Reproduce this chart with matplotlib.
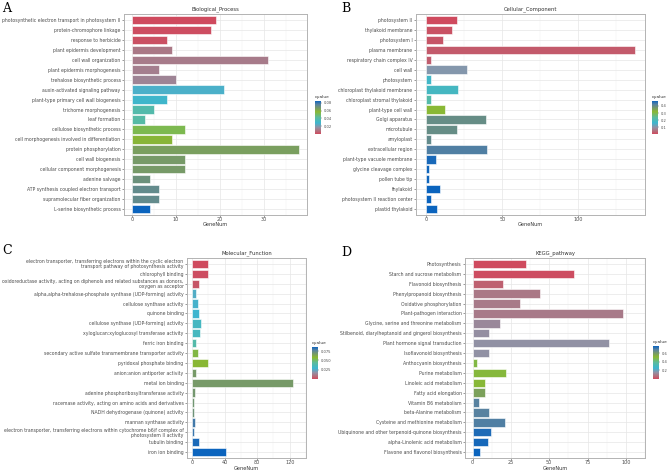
import numpy as np
import matplotlib
matplotlib.use("Agg")
import matplotlib.pyplot as plt
from matplotlib.colors import LinearSegmentedColormap, Normalize
from matplotlib.cm import ScalarMappable

# ---- data ----
bp_terms = ["photosynthetic electron transport in photosystem II", "protein-chromophore linkage",
            "response to herbicide", "plant epidermis development", "cell wall organization",
            "plant epidermis morphogenesis", "trehalose biosynthetic process",
            "auxin-activated signaling pathway", "plant-type primary cell wall biogenesis",
            "trichome morphogenesis", "leaf formation", "cellulose biosynthetic process",
            "cell morphogenesis involved in differentiation", "protein phosphorylation",
            "cell wall biogenesis", "cellular component morphogenesis", "adenine salvage",
            "ATP synthesis coupled electron transport", "supramolecular fiber organization",
            "L-serine biosynthetic process"]
bp_num = [19, 18, 8, 9, 31, 6, 10, 21, 8, 5, 3, 12, 9, 38, 12, 12, 4, 6, 6, 4]
bp_q = [0.0001, 0.0009, 0.0017, 0.0102, 0.0111, 0.0119, 0.0136, 0.0264, 0.0298, 0.0383,
        0.0400, 0.0527, 0.0578, 0.0646, 0.0663, 0.0663, 0.0697, 0.0723, 0.0723, 0.0850]

cc_terms = ["photosystem II", "thylakoid membrane", "photosystem I", "plasma membrane",
            "respiratory chain complex IV", "cell wall", "photosystem",
            "chloroplast thylakoid membrane", "chloroplast stromal thylakoid", "plant-type cell wall",
            "Golgi apparatus", "microtubule", "amyloplast", "extracellular region",
            "plant-type vacuole membrane", "glycine cleavage complex", "pollen tube tip",
            "thylakoid", "photosystem II reaction center", "plastid thylakoid"]
cc_num = [20, 17, 11, 137, 3, 27, 3, 21, 3, 12, 39, 20, 3, 40, 6, 2, 2, 9, 3, 7]
cc_q = [0.010, 0.019, 0.024, 0.028, 0.033, 0.111, 0.176, 0.185, 0.222, 0.314,
        0.396, 0.396, 0.401, 0.424, 0.461, 0.465, 0.465, 0.470, 0.470, 0.470]

mf_terms = ["electron transporter, transferring electrons within the cyclic electron\ntransport pathway of photosynthesis activity",
            "chlorophyll binding",
            "oxidoreductase activity, acting on diphenols and related substances as donors,\noxygen as acceptor",
            "alpha,alpha-trehalose-phosphate synthase (UDP-forming) activity",
            "cellulose synthase activity", "quinone binding",
            "cellulose synthase (UDP-forming) activity",
            "xyloglucan:xyloglucosyl transferase activity", "ferric iron binding",
            "secondary active sulfate transmembrane transporter activity",
            "pyridoxal phosphate binding", "anion:anion antiporter activity", "metal ion binding",
            "adenine phosphoribosyltransferase activity",
            "racemase activity, acting on amino acids and derivatives",
            "NADH dehydrogenase (quinone) activity", "mannan synthase activity",
            "electron transporter, transferring electrons within cytochrome b6/f complex of\nphotosystem II activity",
            "tubulin binding", "iron ion binding"]
mf_num = [20, 20, 9, 5, 7, 9, 11, 10, 5, 7, 19, 5, 124, 4, 2, 2, 4, 3, 8, 42]
mf_q = [0.0001, 0.0009, 0.0026, 0.0261, 0.0278, 0.0287, 0.0331, 0.0339, 0.0400, 0.0557,
        0.0583, 0.0679, 0.0679, 0.0687, 0.0696, 0.0705, 0.0800, 0.0809, 0.0853, 0.0870]

kegg_terms = ["Photosynthesis", "Starch and sucrose metabolism", "Flavonoid biosynthesis",
              "Phenylpropanoid biosynthesis", "Oxidative phosphorylation",
              "Plant-pathogen interaction", "Glycine, serine and threonine metabolism",
              "Stilbenoid, diarylheptanoid and gingerol biosynthesis",
              "Plant hormone signal transduction", "Isoflavonoid biosynthesis",
              "Anthocyanin biosynthesis", "Purine metabolism", "Linoleic acid metabolism",
              "Fatty acid elongation", "Vitamin B6 metabolism", "beta-Alanine metabolism",
              "Cysteine and methionine metabolism",
              "Ubiquinone and other terpenoid-quinone biosynthesis",
              "alpha-Linolenic acid metabolism", "Flavone and flavonol biosynthesis"]
kegg_num = [35, 66, 20, 44, 31, 98, 18, 11, 89, 11, 3, 22, 8, 8, 4, 11, 21, 12, 10, 5]
kegg_q = [0.001, 0.008, 0.046, 0.092, 0.100, 0.100, 0.131, 0.146, 0.154, 0.154,
          0.493, 0.501, 0.508, 0.578, 0.685, 0.685, 0.693, 0.747, 0.755, 0.770]

# red -> cyan -> green -> blue, with in-between tones like ggplot's Lab blend
cmap = LinearSegmentedColormap.from_list("qv", [
    (0.00, "#cf4a5e"), (0.10, "#b0727f"), (0.20, "#9092a6"), (0.333, "#3cb6d0"),
    (0.50, "#5cbb9c"), (0.667, "#8ab832"), (0.78, "#779a68"), (0.89, "#5882a0"),
    (1.00, "#0b64be")])

W, H = 669, 472
fig = plt.figure(figsize=(W / 100, H / 100), dpi=100)
plt.rcParams['font.family'] = ['DejaVu Sans']


def box(l, t, r, b):
    return [l / W, 1 - b / H, (r - l) / W, (b - t) / H]


def panel(pos, cpos, terms, num, q, title, letter, lpos, xlab_y, xticks, cticks, clabels):
    ax = fig.add_axes(box(*pos))
    norm = Normalize(min(q), max(q))
    y = np.arange(len(terms))
    ax.barh(y, num, height=0.85, color=cmap(norm(q)), edgecolor="white", linewidth=0.4, zorder=3)
    mx = max(num)
    ax.set_xlim(-0.05 * mx, 1.05 * mx)
    ax.set_ylim(len(terms) - 0.4, -0.6)
    ax.set_yticks(y)
    ax.set_yticklabels(terms, fontsize=3.3, color="#4d4d4d", multialignment="right", linespacing=0.95)
    ax.set_xticks(xticks)
    ax.set_xticks([(a + b) / 2 for a, b in zip(xticks[:-1], xticks[1:])] + [xticks[-1] + (xticks[1] - xticks[0]) / 2], minor=True)
    ax.tick_params(axis="x", labelsize=3.5, colors="#4d4d4d", length=1.2, width=0.4, pad=0.3)
    ax.tick_params(axis="y", length=1.5, width=0.4, pad=1, colors="#4d4d4d")
    ax.tick_params(axis="x", which="minor", length=0)
    ax.grid(True, which="major", color="#e6e6e6", linewidth=0.5, zorder=0)
    ax.grid(True, which="minor", axis="x", color="#f0f0f0", linewidth=0.3, zorder=0)
    for s in ax.spines.values():
        s.set_color("#b3b3b3")
        s.set_linewidth(0.7)
    ax.set_title(title, fontsize=3.8, color="#333333", pad=3)
    ax.set_xlabel("GeneNum", fontsize=3.6, color="#333333", va="center")
    ax.xaxis.set_label_coords(0.5, (pos[3] - xlab_y) / (pos[3] - pos[1]))
    fig.text(lpos[0] / W, 1 - lpos[1] / H, letter, family="DejaVu Serif", fontsize=9,
             va="center", ha="left")

    cax = fig.add_axes(box(*cpos))
    cb = fig.colorbar(ScalarMappable(norm=norm, cmap=cmap), cax=cax)
    cb.outline.set_visible(False)
    cb.set_ticks(cticks)
    cb.set_ticklabels(clabels)
    cax.tick_params(labelsize=2.6, length=1, width=0.3, pad=1, colors="#4d4d4d")
    cax.set_title("qvalue", fontsize=3.2, loc="left", pad=2, color="#333333")


panel((124, 14, 307, 215), (315, 100.7, 321, 134), bp_terms, bp_num, bp_q,
      "Biological_Process", "A", (2, 9), 225, [0, 10, 20, 30],
      [0.02, 0.04, 0.06, 0.08], ["0.02", "0.04", "0.06", "0.08"])
panel((416, 14, 645, 215), (652, 100.7, 658, 134), cc_terms, cc_num, cc_q,
      "Cellular_Component", "B", (341, 9), 225, [0, 50, 100],
      [0.1, 0.2, 0.3, 0.4], ["0.1", "0.2", "0.3", "0.4"])
panel((187, 258, 306, 458), (312, 346.7, 318, 379), mf_terms, mf_num, mf_q,
      "Molecular_Function", "C", (2, 250), 469, [0, 40, 80, 120],
      [0.025, 0.050, 0.075], ["0.025", "0.050", "0.075"])
panel((465, 258, 645, 458), (653, 346, 659, 379), kegg_terms, kegg_num, kegg_q,
      "KEGG_pathway", "D", (341, 252), 469, [0, 25, 50, 75, 100],
      [0.2, 0.4, 0.6], ["0.2", "0.4", "0.6"])

fig.savefig("out.png", dpi=100)
